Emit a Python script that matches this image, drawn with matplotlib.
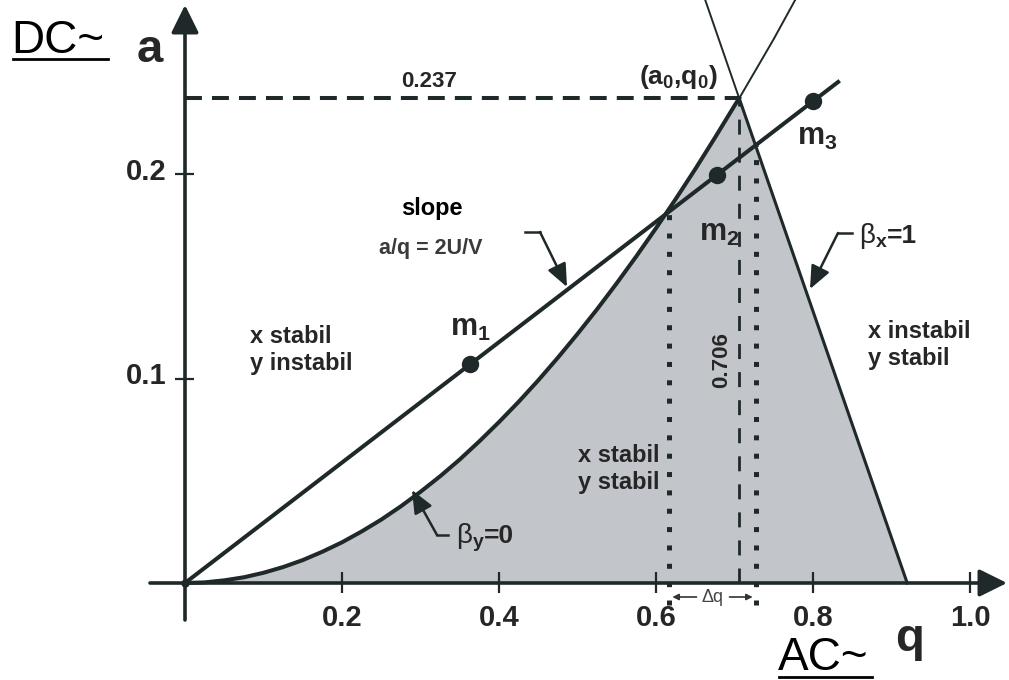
import matplotlib
matplotlib.use('agg')
import matplotlib.pyplot as plt
from matplotlib.patches import ArrowStyle

plt.rcParams['font.family'] = ['Liberation Sans', 'DejaVu Sans']
plt.rcParams['mathtext.fontset'] = 'custom'
plt.rcParams['mathtext.rm'] = 'Liberation Sans'
plt.rcParams['mathtext.bf'] = 'Liberation Sans:bold'
plt.rcParams['mathtext.it'] = 'Liberation Sans:italic'

# stability boundary beta_y = 0
q_beta_y = [0.0, 0.025, 0.05, 0.075, 0.1, 0.125, 0.15, 0.175, 0.2, 0.225, 0.25, 0.275,
            0.3, 0.325, 0.35, 0.375, 0.4, 0.425, 0.45, 0.475, 0.5, 0.525, 0.55, 0.575,
            0.6, 0.625, 0.65, 0.675, 0.7, 0.706]
a_beta_y = [0.0, 0.0003, 0.0013, 0.0028, 0.005, 0.0078, 0.0112, 0.0153, 0.0199, 0.0252,
            0.031, 0.0375, 0.0446, 0.0522, 0.0604, 0.0693, 0.0787, 0.0886, 0.0991, 0.1102,
            0.1218, 0.1339, 0.1466, 0.1598, 0.1735, 0.1877, 0.2024, 0.2177, 0.2334, 0.237]
q_beta_y_ext = [0.706, 0.73, 0.75, 0.78]
a_beta_y_ext = [0.237, 0.2528, 0.266, 0.287]
# boundary beta_x = 1
q_beta_x = [0.92, 0.706]
a_beta_x = [0.0, 0.237]
q_beta_x_ext = [0.706, 0.661]
a_beta_x_ext = [0.237, 0.287]
# scan line a/q = 2U/V
q_scan = [0.0, 0.832]
a_scan = [0.0, 0.245]
q_m = [0.363, 0.678, 0.80]
a_m = [0.107, 0.1995, 0.2357]
m_labels = [r'$\mathbf{m_1}$', r'$\mathbf{m_2}$', r'$\mathbf{m_3}$']
q0, a0 = 0.706, 0.237
q_cross = [0.617, 0.727]
a_cross = [0.182, 0.214]
xticks = [0.2, 0.4, 0.6, 0.8, 1.0]
xticklabels = ['0.2', '0.4', '0.6', '0.8', '1.0']
yticks = [0.1, 0.2]
yticklabels = ['0.1', '0.2']

DARK = '#1f2929'
TXT = '#262626'
FILL = '#c2c5ca'

W, H = 1009, 680
X0, Y0 = 185, 583          # pixel of origin
SX, SY = 785.0, 2045.0     # pixels per unit q / a


def px(x, y):
    return ((x - X0) / SX, (Y0 - y) / SY)


fig = plt.figure(figsize=(W / 100, H / 100), dpi=100)
ax = fig.add_axes([0, 0, 1, 1])
ax.set_xlim(-X0 / SX, (W - X0) / SX)
ax.set_ylim(-(H - Y0) / SY, Y0 / SY)
ax.axis('off')

# stable region
ax.fill(q_beta_y + q_beta_x[:1], a_beta_y + a_beta_x[:1], color=FILL, lw=0, zorder=1)

ax.plot(q_beta_y, a_beta_y, color=DARK, lw=2.9, zorder=3, solid_joinstyle='round')
ax.plot(q_beta_y_ext, a_beta_y_ext, color=DARK, lw=1.4, zorder=3)
ax.plot(q_beta_x, a_beta_x, color=DARK, lw=2.2, zorder=3)
ax.plot(q_beta_x_ext, a_beta_x_ext, color=DARK, lw=1.4, zorder=3)
ax.plot(q_scan, a_scan, color=DARK, lw=2.9, zorder=4)
ax.plot(q_m, a_m, 'o', color=DARK, ms=11.5, zorder=5)

# a0 / q0 guides
ax.plot([0, q0], [a0, a0], color=DARK, lw=2.9, dashes=(4.2, 2.5), zorder=2)
ax.plot([q0, q0], [0, a0], color=DARK, lw=2.0, dashes=(5.4, 4.7), zorder=2)
for qc, ac in zip(q_cross, a_cross):
    ax.plot([qc, qc], [-0.011, ac], color=DARK, lw=3.6, dashes=(1, 2.67),
            solid_capstyle='butt', dash_capstyle='butt', zorder=2)

# axes
big = ArrowStyle('-|>', head_length=0.85, head_width=0.42)
ax.annotate('', xy=px(1007, Y0), xytext=px(150, Y0),
            arrowprops=dict(arrowstyle=big, mutation_scale=20, lw=2.6, color=DARK,
                            shrinkA=0, shrinkB=0), zorder=6)
ax.annotate('', xy=px(X0, 5), xytext=px(X0, 620),
            arrowprops=dict(arrowstyle=big, mutation_scale=20, lw=2.6, color=DARK,
                            shrinkA=0, shrinkB=0), zorder=6)
ax.plot([0], [0], 'o', color=DARK, ms=5, zorder=6)
ax.vlines(xticks, -10 / SY, 11 / SY, color=DARK, lw=1.6, zorder=6)
ax.hlines(yticks, -10 / SX, 9 / SX, color=DARK, lw=1.6, zorder=7)
for t, lab in zip(xticks, xticklabels):
    ax.text(t, px(0, 618)[1], lab, ha='center', va='center', fontsize=21,
            fontweight='bold', color=TXT)
for t, lab in zip(yticks, yticklabels):
    ax.text(px(166, 0)[0], t + 2 / SY, lab, ha='right', va='center', fontsize=21,
            fontweight='bold', color=TXT)

# axis titles
ax.text(*px(137, 62), 'a', fontsize=34, fontweight='bold', color=TXT, va='baseline')
ax.text(*px(895, 651), 'q', fontsize=34, fontweight='bold', color=TXT, va='baseline')
ax.text(*px(11, 53), 'DC~', fontsize=33, color='black', va='baseline')
ax.plot(*zip(px(13, 59), px(108, 59)), color='black', lw=2)
ax.text(*px(778, 670), 'AC~', fontsize=33, color='black', va='baseline')
ax.plot(*zip(px(779, 677), px(872, 677)), color='black', lw=2)

# annotations
ax.text(*px(429, 87), '0.237', ha='center', va='baseline', fontsize=16,
        fontweight='bold', color=TXT)
ax.text(*px(678, 84), r'$\mathbf{(a_0{,}q_0)}$', ha='center', va='baseline',
        fontsize=19, color=TXT)
ax.text(*px(722, 360), '0.706', ha='center', va='center', rotation=90,
        fontsize=16, fontweight='bold', color=TXT)
for qm, am, lab, dx, dy in zip(q_m, a_m, m_labels, [-20, -18, -16], [36, -58, -36]):
    ax.text(qm + dx / SX, am + dy / SY, lab, fontsize=22, color=TXT, va='center')

ax.text(*px(432, 215), 'slope', ha='center', va='baseline', fontsize=17,
        fontweight='bold', color='black')
ax.text(*px(379, 254), 'a/q = 2U/V', ha='left', va='baseline', fontsize=15.5,
        fontweight='bold', color='#3a3a3a')

ax.text(*px(250, 343), 'x stabil', va='baseline', fontsize=17, fontweight='bold', color=TXT)
ax.text(*px(250, 370), 'y instabil', va='baseline', fontsize=17, fontweight='bold', color=TXT)
ax.text(*px(868, 338), 'x instabil', va='baseline', fontsize=17, fontweight='bold', color=TXT)
ax.text(*px(868, 365), 'y stabil', va='baseline', fontsize=17, fontweight='bold', color=TXT)
ax.text(*px(660, 462), 'x stabil', ha='right', va='baseline', fontsize=17,
        fontweight='bold', color=TXT)
ax.text(*px(660, 489), 'y stabil', ha='right', va='baseline', fontsize=17,
        fontweight='bold', color=TXT)

# beta labels: thin beta, bold subscript, bold "=value"
for (xb, yb), sub, rest in [((859, 243), 'x', '=1'), ((456, 543), 'y', '=0')]:
    ax.text(*px(xb, yb), r'$\mathrm{\beta}_\mathbf{%s}$' % sub, va='baseline',
            fontsize=20, color=TXT)
    ax.text(*px(xb + 28, yb), rest, va='baseline', fontsize=19,
            fontweight='bold', color=TXT)

# callout arrows
small = ArrowStyle('-|>', head_length=0.7, head_width=0.3)
for (xa, ya), (xb, yb), (xc, yc) in [((525, 232), (540, 232), (567, 287)),
                                      ((852, 233), (838, 233), (810, 289)),
                                      ((448, 535), (437, 535), (412, 490))]:
    ax.plot(*zip(px(xa, ya), px(xb, yb)), color=DARK, lw=1.8)
    ax.annotate('', xy=px(xc, yc), xytext=px(xb, yb),
                arrowprops=dict(arrowstyle=small, mutation_scale=20, lw=1.8,
                                color=DARK, shrinkA=0, shrinkB=0))

# delta q
mid = (q_cross[0] + q_cross[1]) / 2
ax.text(mid, px(0, 597)[1], '\u0394q', ha='center',
        va='center', fontsize=13, color='#444444')
for end, start in [(q_cross[0] + 3 / SX, mid - 16 / SX), (q_cross[1] - 3 / SX, mid + 17 / SX)]:
    ax.annotate('', xy=(end, px(0, 597)[1]), xytext=(start, px(0, 597)[1]),
                arrowprops=dict(arrowstyle='-|>', mutation_scale=9, lw=1.2,
                                color='#333333', shrinkA=0, shrinkB=0))

plt.savefig('out.png', dpi=100)
plt.close()
